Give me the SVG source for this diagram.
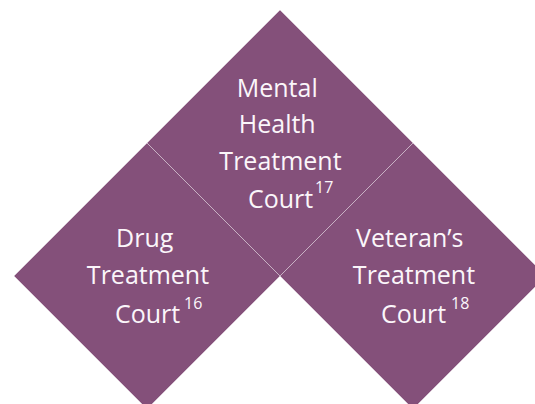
<svg xmlns="http://www.w3.org/2000/svg" width="535" height="404" viewBox="0 0 535 404">
  <style>
    .tile { fill: #84507a; stroke: #ffffff; stroke-opacity: 0.45; stroke-width: 0.75; }
    .label { font-family: "Open Sans", "Noto Sans", "Liberation Sans", sans-serif; font-size: 25px; fill: #fbf6fa; text-anchor: middle; }
    .lead { text-anchor: start; }
    .sup { font-size: 16px; }
  </style>
  <rect width="535" height="404" fill="#ffffff"/>

  <!-- Drug Treatment Court (lower left) -->
  <g id="drug-court">
    <polygon class="tile" points="147,143 280,276 147,409 14,276"/>
    <text class="label">
      <tspan x="148" y="247">Drug</tspan>
      <tspan x="148" y="284">Treatment</tspan>
    </text>
    <text class="label lead"><tspan x="115" y="323">Court</tspan><tspan class="sup" x="184" y="309">16</tspan></text>
  </g>

  <!-- Veteran's Treatment Court (lower right) -->
  <g id="veterans-court">
    <polygon class="tile" points="413,143 546,276 413,409 280,276"/>
    <text class="label">
      <tspan x="413" y="247">Veteran’s</tspan>
      <tspan x="414" y="284">Treatment</tspan>
    </text>
    <text class="label lead"><tspan x="381" y="323">Court</tspan><tspan class="sup" x="451" y="309">18</tspan></text>
  </g>

  <!-- Mental Health Treatment Court (top) -->
  <g id="mental-health-court">
    <polygon class="tile" points="280,10 413,143 280,276 147,143"/>
    <text class="label">
      <tspan x="280.5" y="97">Mental</tspan>
      <tspan x="280.5" y="133">Health</tspan>
      <tspan x="280.5" y="170">Treatment</tspan>
    </text>
    <text class="label lead"><tspan x="248" y="208">Court</tspan><tspan class="sup" x="315" y="193">17</tspan></text>
  </g>

  <g id="connectors"/>
</svg>
